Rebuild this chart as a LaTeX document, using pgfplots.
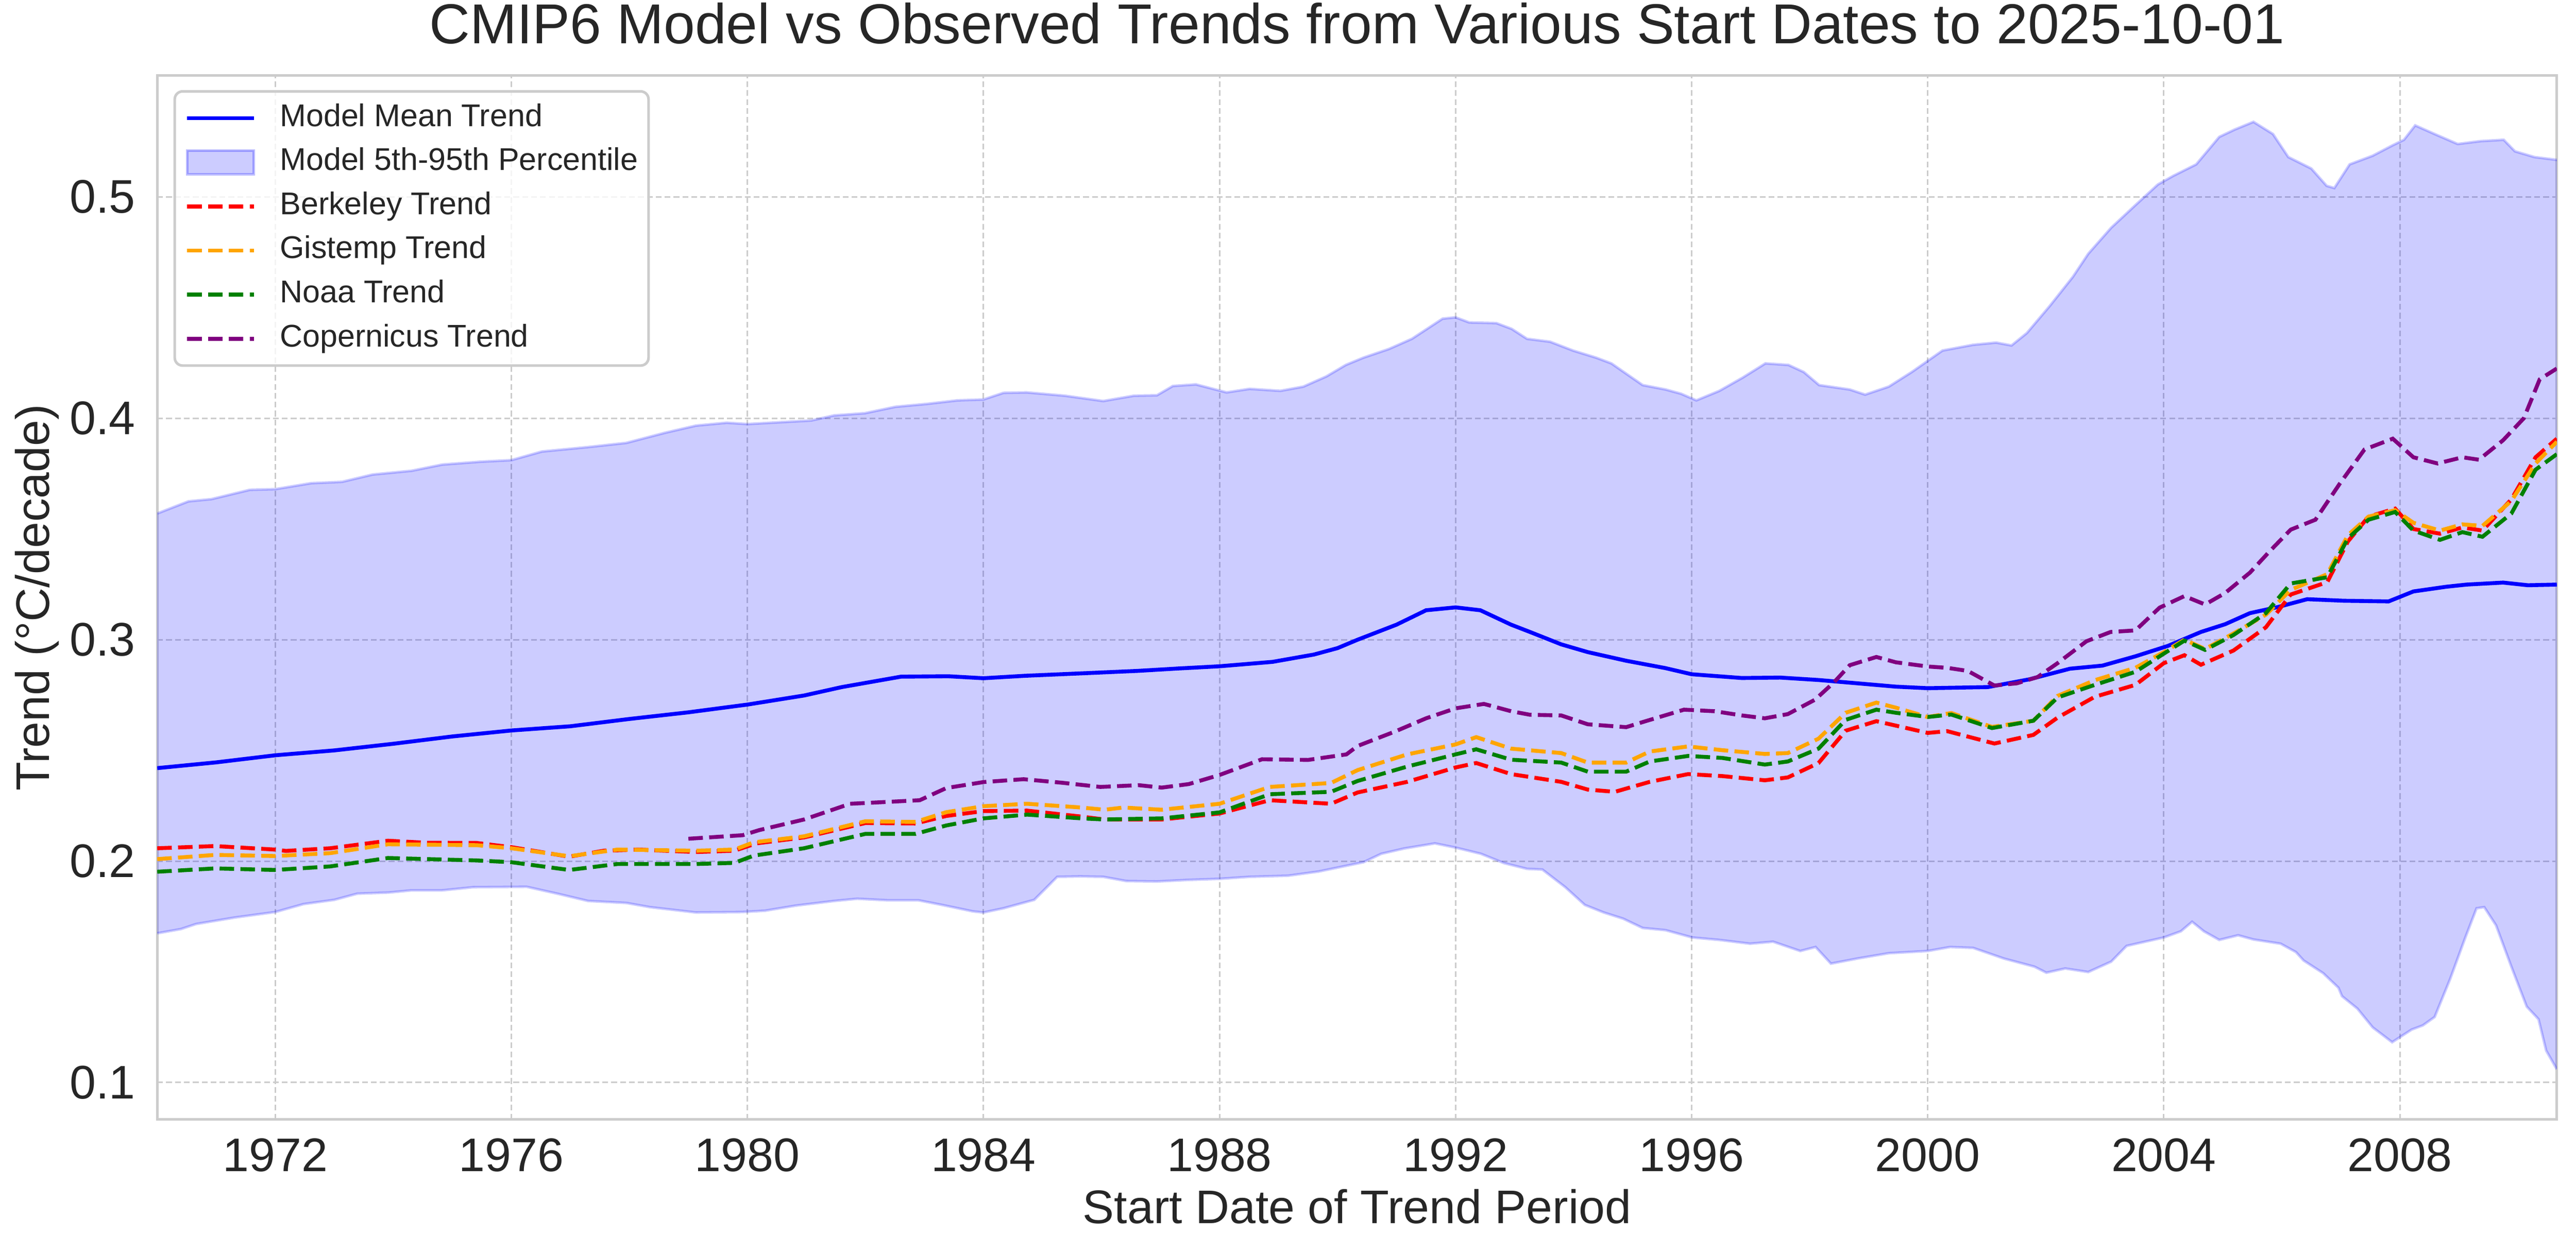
\documentclass[border=0pt]{standalone}
\usepackage{fontspec}
\setmainfont{Liberation Sans}
\usepackage{pgfplots}
\pgfplotsset{compat=1.18}
\usepackage{pgfplotstable}
\usepgfplotslibrary{fillbetween}

\definecolor{txt}{HTML}{262626}
\definecolor{spine}{HTML}{CCCCCC}
\definecolor{orng}{HTML}{FFA500}
\definecolor{grn}{HTML}{008000}
\definecolor{purp}{HTML}{800080}

% model mean trend
\pgfplotstableread{
x y
1970.0 0.2420
1971.0 0.2446
1972.0 0.2478
1973.0 0.2500
1974.0 0.2530
1975.0 0.2563
1976.0 0.2590
1977.0 0.2609
1978.0 0.2642
1979.0 0.2672
1980.0 0.2707
1980.96 0.2748
1981.6 0.2786
1982.6 0.2833
1983.4 0.2835
1984.0 0.2826
1984.7 0.2837
1985.66 0.2848
1986.6 0.2859
1987.3 0.2870
1988.0 0.2880
1988.9 0.2900
1989.6 0.2933
1990.0 0.2962
1990.34 0.3000
1991.0 0.3068
1991.5 0.3133
1992.0 0.3146
1992.42 0.3133
1992.94 0.3068
1993.26 0.3035
1993.79 0.2979
1994.24 0.2944
1994.89 0.2905
1995.55 0.2872
1996.0 0.2844
1996.85 0.2827
1997.5 0.2829
1998.15 0.2818
1998.81 0.2803
1999.46 0.2788
2000.0 0.2781
2001.02 0.2786
2001.72 0.2821
2002.41 0.2869
2002.96 0.2883
2003.52 0.2925
2004.07 0.2972
2004.63 0.3035
2005.04 0.3070
2005.46 0.3120
2005.94 0.3148
2006.43 0.3183
2007.05 0.3176
2007.81 0.3173
2008.23 0.3218
2008.78 0.3239
2009.13 0.3249
2009.75 0.3258
2010.17 0.3246
2010.66 0.3249
}\meanT

% 95th percentile
\pgfplotstableread{
x y
1970.0 0.3570
1970.53 0.3625
1970.92 0.3635
1971.57 0.3677
1972.0 0.3680
1972.61 0.3707
1973.13 0.3713
1973.65 0.3746
1974.31 0.3763
1974.83 0.3791
1975.48 0.3804
1976.0 0.3811
1976.52 0.3850
1977.3 0.3870
1977.95 0.3889
1978.61 0.3935
1979.13 0.3967
1979.65 0.3980
1980.0 0.3974
1981.08 0.3990
1981.47 0.4013
1981.99 0.4023
1982.51 0.4052
1983.04 0.4065
1983.56 0.4081
1984.0 0.4085
1984.34 0.4115
1984.73 0.4117
1985.38 0.4102
1986.03 0.4078
1986.55 0.4102
1986.94 0.4104
1987.21 0.4146
1987.6 0.4153
1988.12 0.4117
1988.51 0.4133
1989.03 0.4124
1989.42 0.4143
1989.81 0.4189
1990.14 0.4241
1990.44 0.4274
1990.87 0.4313
1991.26 0.4359
1991.78 0.4450
1992.0 0.4456
1992.23 0.4433
1992.69 0.4430
1992.95 0.4404
1993.21 0.4359
1993.6 0.4346
1993.99 0.4306
1994.38 0.4274
1994.64 0.4248
1995.17 0.4150
1995.56 0.4130
1995.82 0.4111
1996.08 0.4081
1996.47 0.4124
1996.86 0.4183
1997.25 0.4248
1997.64 0.4241
1997.9 0.4209
1998.16 0.4150
1998.68 0.4130
1998.94 0.4107
1999.34 0.4143
1999.73 0.4209
2000.25 0.4306
2000.77 0.4332
2001.16 0.4342
2001.42 0.4329
2001.68 0.4385
2002.07 0.4508
2002.46 0.4639
2002.72 0.4743
2003.11 0.4861
2003.5 0.4958
2003.9 0.5056
2004.16 0.5095
2004.55 0.5147
2004.94 0.5271
2005.2 0.5304
2005.52 0.5339
2005.85 0.5284
2006.11 0.5180
2006.5 0.5128
2006.76 0.5050
2006.89 0.5040
2007.15 0.5147
2007.54 0.5186
2007.87 0.5232
2008.07 0.5258
2008.26 0.5323
2008.59 0.5284
2008.98 0.5239
2009.37 0.5252
2009.76 0.5258
2009.95 0.5206
2010.28 0.5180
2010.67 0.5167
}\upT

% 5th percentile
\pgfplotstableread{
x y
1970.0 0.1674
1970.4 0.1693
1970.66 0.1716
1971.31 0.1745
1972.0 0.1770
1972.48 0.1806
1973.0 0.1825
1973.39 0.1853
1973.92 0.1858
1974.31 0.1868
1974.83 0.1868
1975.35 0.1882
1976.26 0.1884
1976.78 0.1853
1977.3 0.1820
1977.95 0.1811
1978.35 0.1792
1979.13 0.1768
1979.91 0.1770
1980.3 0.1776
1980.82 0.1799
1981.47 0.1820
1981.86 0.1830
1982.38 0.1823
1982.9 0.1823
1983.3 0.1802
1983.82 0.1773
1984.0 0.1768
1984.34 0.1787
1984.86 0.1825
1985.25 0.1929
1985.64 0.1931
1986.03 0.1929
1986.42 0.1910
1986.94 0.1908
1987.46 0.1915
1988.0 0.1920
1988.51 0.1929
1989.16 0.1934
1989.68 0.1953
1990.44 0.1995
1990.74 0.2033
1991.13 0.2057
1991.65 0.2080
1992.0 0.2061
1992.43 0.2033
1992.82 0.1991
1993.21 0.1965
1993.47 0.1962
1993.86 0.1882
1994.19 0.1802
1994.51 0.1768
1994.84 0.1740
1995.17 0.1698
1995.56 0.1688
1996.01 0.1655
1996.47 0.1644
1996.99 0.1627
1997.38 0.1636
1997.84 0.1594
1998.1 0.1612
1998.36 0.1537
1998.81 0.1560
1999.34 0.1584
2000.0 0.1594
2000.38 0.1612
2000.77 0.1608
2001.29 0.1560
2001.81 0.1523
2002.01 0.1496
2002.33 0.1515
2002.72 0.1499
2003.11 0.1546
2003.37 0.1617
2004.0 0.1655
2004.29 0.1683
2004.48 0.1726
2004.68 0.1683
2004.94 0.1644
2005.26 0.1665
2005.52 0.1646
2005.98 0.1627
2006.24 0.1589
2006.37 0.1551
2006.7 0.1494
2006.96 0.1428
2007.02 0.1390
2007.28 0.1334
2007.54 0.1249
2007.87 0.1182
2008.2 0.1239
2008.39 0.1258
2008.59 0.1296
2008.85 0.1466
2009.11 0.1655
2009.3 0.1787
2009.43 0.1792
2009.63 0.1710
2009.89 0.1523
2010.15 0.1343
2010.35 0.1286
2010.48 0.1144
2010.66 0.1060
}\loT

% Berkeley
\pgfplotstableread{
x y
1970.0 0.2058
1970.98 0.2068
1972.0 0.2052
1972.18 0.2046
1972.93 0.2058
1973.91 0.2092
1974.56 0.2083
1975.41 0.2082
1976.0 0.2063
1976.98 0.2020
1977.57 0.2047
1978.15 0.2052
1979.13 0.2041
1979.78 0.2047
1980.15 0.2080
1980.96 0.2107
1982.0 0.2172
1982.85 0.2170
1983.37 0.2204
1984.0 0.2226
1984.74 0.2228
1985.66 0.2201
1986.05 0.2188
1987.02 0.2188
1988.0 0.2215
1988.85 0.2275
1989.89 0.2259
1990.34 0.2310
1991.18 0.2358
1992.0 0.2423
1992.35 0.2443
1992.94 0.2393
1993.79 0.2358
1994.24 0.2323
1994.7 0.2313
1995.29 0.2358
1995.94 0.2393
1996.52 0.2384
1997.24 0.2365
1997.63 0.2378
1998.15 0.2443
1998.61 0.2589
1999.13 0.2632
1999.46 0.2612
2000.0 0.2579
2000.33 0.2587
2001.13 0.2531
2001.79 0.2570
2002.2 0.2648
2002.83 0.2742
2003.52 0.2796
2004.0 0.2894
2004.35 0.2930
2004.63 0.2887
2005.18 0.2951
2005.73 0.3056
2006.15 0.3204
2006.77 0.3260
2007.12 0.3444
2007.47 0.3556
2007.92 0.3592
2008.23 0.3500
2008.68 0.3479
2009.06 0.3507
2009.4 0.3493
2009.89 0.3634
2010.3 0.3824
2010.66 0.3908
}\berkT

% Gistemp
\pgfplotstableread{
x y
1970.0 0.2009
1970.98 0.2028
1972.0 0.2023
1972.93 0.2036
1973.91 0.2076
1975.41 0.2072
1976.0 0.2058
1976.98 0.2022
1977.8 0.2052
1979.13 0.2047
1979.78 0.2052
1980.11 0.2085
1980.96 0.2112
1982.0 0.2180
1982.85 0.2177
1983.37 0.2221
1984.0 0.2248
1984.74 0.2259
1985.66 0.2242
1986.05 0.2232
1986.37 0.2242
1987.02 0.2232
1988.0 0.2259
1988.85 0.2335
1989.89 0.2353
1990.34 0.2411
1991.18 0.2482
1992.0 0.2527
1992.35 0.2560
1992.94 0.2508
1993.79 0.2488
1994.24 0.2445
1994.89 0.2445
1995.29 0.2495
1995.94 0.2518
1996.52 0.2501
1997.24 0.2484
1997.63 0.2488
1998.15 0.2553
1998.61 0.2670
1999.13 0.2716
1999.46 0.2693
2000.0 0.2651
2000.4 0.2669
2001.09 0.2606
2001.79 0.2634
2002.2 0.2746
2002.83 0.2817
2003.52 0.2873
2004.0 0.2944
2004.35 0.3000
2004.7 0.2958
2005.18 0.3028
2005.73 0.3113
2006.15 0.3225
2006.77 0.3296
2007.12 0.3472
2007.47 0.3556
2007.92 0.3585
2008.23 0.3528
2008.68 0.3493
2009.06 0.3521
2009.4 0.3514
2009.89 0.3627
2010.3 0.3796
2010.66 0.3894
}\gissT

% NOAA
\pgfplotstableread{
x y
1970.0 0.1952
1970.98 0.1967
1972.0 0.1960
1972.93 0.1976
1973.91 0.2014
1975.41 0.2003
1976.0 0.1995
1976.98 0.1960
1977.8 0.1987
1979.13 0.1987
1979.78 0.1992
1980.11 0.2025
1980.96 0.2058
1982.0 0.2123
1982.85 0.2123
1983.37 0.2161
1984.0 0.2193
1984.74 0.2210
1985.66 0.2193
1986.05 0.2188
1987.02 0.2193
1988.0 0.2220
1988.85 0.2302
1989.89 0.2313
1990.34 0.2362
1991.18 0.2427
1992.0 0.2482
1992.35 0.2505
1992.94 0.2458
1993.79 0.2445
1994.24 0.2404
1994.89 0.2404
1995.29 0.2450
1995.94 0.2475
1996.52 0.2466
1997.24 0.2436
1997.63 0.2450
1998.15 0.2508
1998.61 0.2638
1999.13 0.2684
1999.46 0.2670
2000.0 0.2651
2000.4 0.2662
2001.09 0.2601
2001.79 0.2634
2002.2 0.2739
2002.83 0.2796
2003.52 0.2855
2004.0 0.2937
2004.35 0.2996
2004.7 0.2954
2005.18 0.3021
2005.73 0.3120
2006.15 0.3254
2006.77 0.3282
2007.12 0.3458
2007.47 0.3542
2007.92 0.3577
2008.23 0.3493
2008.68 0.3451
2009.06 0.3486
2009.4 0.3465
2009.89 0.3570
2010.3 0.3768
2010.66 0.3838
}\noaaT

% Copernicus
\pgfplotstableread{
x y
1979.0 0.2101
1979.92 0.2117
1980.2 0.2140
1980.96 0.2188
1981.74 0.2259
1982.27 0.2266
1982.92 0.2275
1983.37 0.2330
1984.0 0.2357
1984.68 0.2370
1985.33 0.2354
1985.98 0.2335
1986.63 0.2343
1987.02 0.2332
1987.48 0.2348
1988.0 0.2389
1988.72 0.2460
1989.5 0.2457
1990.15 0.2482
1990.34 0.2520
1990.98 0.2586
1991.5 0.2645
1992.0 0.2690
1992.48 0.2710
1992.94 0.2677
1993.26 0.2661
1993.79 0.2658
1994.24 0.2618
1994.89 0.2605
1995.22 0.2632
1995.87 0.2684
1996.39 0.2677
1996.85 0.2658
1997.24 0.2645
1997.63 0.2664
1998.09 0.2729
1998.41 0.2807
1998.68 0.2885
1999.13 0.2922
1999.46 0.2898
2000.0 0.2879
2000.33 0.2873
2000.68 0.2859
2001.13 0.2793
2001.51 0.2803
2001.86 0.2831
2002.2 0.2894
2002.69 0.2993
2003.1 0.3035
2003.52 0.3042
2003.93 0.3145
2004.35 0.3197
2004.7 0.3159
2005.04 0.3211
2005.46 0.3303
2005.8 0.3401
2006.15 0.3497
2006.57 0.3542
2006.98 0.3704
2007.4 0.3859
2007.88 0.3908
2008.23 0.3824
2008.64 0.3796
2009.06 0.3824
2009.34 0.3813
2009.75 0.3901
2010.1 0.4000
2010.37 0.4176
2010.66 0.4225
}\copT

\begin{document}
\begin{tikzpicture}
\begin{axis}[
  at={(0,0)}, anchor=south west,
  scale only axis, width=916.4pt, height=398.9pt,
  xmin=1970, xmax=2010.66, ymin=0.0833, ymax=0.5549,
  xtick={1972,1976,1980,1984,1988,1992,1996,2000,2004,2008},
  xticklabels={1972,1976,1980,1984,1988,1992,1996,2000,2004,2008},
  ytick={0.1,0.2,0.3,0.4,0.5},
  yticklabels={0.1,0.2,0.3,0.4,0.5},
  major tick length=0pt,
  axis line style={spine, line width=1pt},
  grid=major,
  major grid style={spine, line width=0.6pt, dash pattern=on 2.2pt off 1.2pt},
  tick label style={font=\fontsize{18}{21}\selectfont, text=txt},
  xticklabel style={anchor=base, yshift=-19.9pt, inner sep=0pt},
  yticklabel style={anchor=east, xshift=-8.2pt, inner sep=0pt},
  title={CMIP6 Model vs Observed Trends from Various Start Dates to 2025-10-01},
  title style={at={(axis description cs:0.5,1.0155)}, anchor=base, inner sep=0pt,
    font=\fontsize{21.5}{25}\selectfont, text=txt},
  xlabel={Start Date of Trend Period},
  xlabel style={at={(axis description cs:0.5,-0.0995)}, anchor=base, inner sep=0pt,
    font=\fontsize{18}{21}\selectfont, text=txt},
  ylabel={Trend (°C/decade)},
  ylabel style={at={(axis description cs:-0.0501,0.5)}, anchor=center, inner sep=0pt,
    font=\fontsize{18}{21}\selectfont, text=txt},
  legend image code/.code={\draw[#1] (0pt,0pt) -- (25.5pt,0pt);},
  legend cell align=left,
  legend style={at={(axis description cs:0.00675,0.9859)}, anchor=north west,
    draw=spine, line width=1pt, rounded corners=3pt,
    fill=white, fill opacity=0.8, text opacity=1, draw opacity=1,
    inner xsep=4pt, inner ysep=4.7pt, row sep=5.75pt, column sep=9.2pt,
    font=\fontsize{12}{14}\selectfont, text=txt,
    nodes={inner sep=0pt, text height=8.6pt, text depth=2.5pt}},
]
\addplot[blue, line width=1.5pt] table {\meanT};
\addlegendentry{Model Mean Trend}
\addplot[name path=up, draw=blue, draw opacity=0.2, line width=1pt, forget plot] table {\upT};
\addplot[name path=lo, draw=blue, draw opacity=0.2, line width=1pt, forget plot] table {\loT};
\addplot[fill=blue, fill opacity=0.2, draw=none,
  legend image code/.code={\draw[fill=blue, fill opacity=0.2, draw=blue, draw opacity=0.25, line width=1pt, rounded corners=0pt] (0pt,-4.5pt) rectangle (25.5pt,4.5pt);}]
  fill between[of=up and lo];
\addlegendentry{Model 5th-95th Percentile}
\addplot[red, line width=1.5pt, dash pattern=on 5.55pt off 2.4pt] table {\berkT};
\addlegendentry{Berkeley Trend}
\addplot[orng, line width=1.5pt, dash pattern=on 5.55pt off 2.4pt] table {\gissT};
\addlegendentry{Gistemp Trend}
\addplot[grn, line width=1.5pt, dash pattern=on 5.55pt off 2.4pt] table {\noaaT};
\addlegendentry{Noaa Trend}
\addplot[purp, line width=1.5pt, dash pattern=on 5.55pt off 2.4pt] table {\copT};
\addlegendentry{Copernicus Trend}
\end{axis}
\pgfresetboundingbox
\path[use as bounding box] (-60.05pt,-51.0pt) rectangle (923.74pt,427.7pt);
\end{tikzpicture}
\end{document}
